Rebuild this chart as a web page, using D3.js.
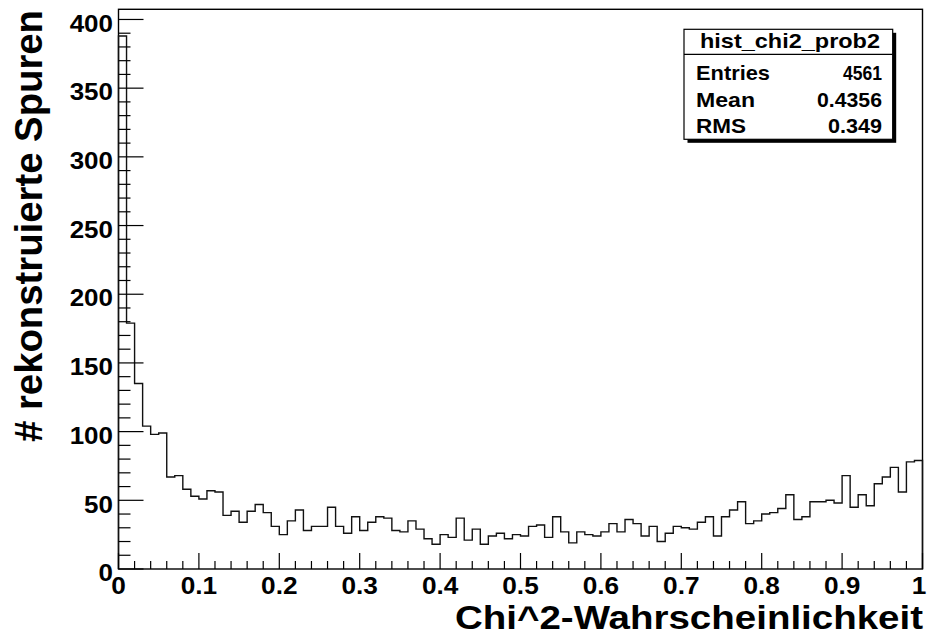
<!DOCTYPE html>
<html>
<head>
<meta charset="utf-8">
<script src="https://cdn.jsdelivr.net/npm/d3@7"></script>
<style>
  html, body { margin: 0; padding: 0; background: #fff; }
  svg { display: block; }
  text { font-family: "Liberation Sans", Arial, Helvetica, sans-serif; font-weight: bold; fill: #000; }
</style>
</head>
<body>
<svg id="chart" width="928" height="640"></svg>
<script>
// ---- data ----
const binLow = 0, binHigh = 1, nBins = 100;
const counts = [388,179,135,104,98,99,67,68,58,53,
                51,57,56,39,42,34,42,47,41,31,
                25,35,43,28,31,31,45,31,26,38,
                28,34,38,37,28,27,35,29,22,18,
                25,23,37,21,29,18,24,26,22,25,
                24,31,32,23,38,27,19,27,25,24,
                27,33,27,36,33,24,31,20,26,31,
                30,29,34,38,24,38,43,49,33,35,
                40,41,44,54,36,38,49,49,50,48,
                68,45,54,46,62,67,74,56,78,79];
const xTickValues = [0,0.1,0.2,0.3,0.4,0.5,0.6,0.7,0.8,0.9,1];
const xTickLabels = ["0","0.1","0.2","0.3","0.4","0.5","0.6","0.7","0.8","0.9","1"];
const yTickValues = [0,50,100,150,200,250,300,350,400];
const yTickLabels = ["0","50","100","150","200","250","300","350","400"];
const statsTitle = "hist_chi2_prob2";
const statsNames = ["Entries","Mean","RMS"];
const statsValues = ["4561","0.4356","0.349"];
const xTitle = "Chi^2-Wahrscheinlichkeit";
const yTitle = "# rekonstruierte Spuren";

// ---- layout ----
const L = 118.5, R = 922.5, T = 9.3, B = 569;
const yMax = 407.4;
const svg = d3.select("#chart");
const x = d3.scaleLinear().domain([binLow, binHigh]).range([L, R]);
const y = d3.scaleLinear().domain([0, yMax]).range([B, T]);
const binW = (binHigh - binLow) / nBins;

// frame
svg.append("rect").attr("x", L).attr("y", T).attr("width", R - L).attr("height", B - T)
  .attr("fill", "none").attr("stroke", "#000").attr("stroke-width", 1.4);

// histogram step line
const pts = [[x(binLow), y(0)]];
counts.forEach((c, i) => {
  pts.push([x(binLow + i * binW), y(c)]);
  pts.push([x(binLow + (i + 1) * binW), y(c)]);
});
pts.push([x(binHigh), y(0)]);
svg.append("path").attr("d", d3.line()(pts)).attr("fill", "none")
  .attr("stroke", "#111").attr("stroke-width", 1.4);

// x axis ticks
const xMinor = d3.range(0, 51).map(i => i * 0.02);
svg.append("g").selectAll("line").data(xMinor).join("line")
  .attr("x1", d => x(d)).attr("x2", d => x(d))
  .attr("y1", B).attr("y2", d => (Math.round(d * 50) % 5 === 0) ? B - 16 : B - 8)
  .attr("stroke", "#000").attr("stroke-width", 1.2);
// y axis ticks
const yMinor = d3.range(0, 41).map(i => i * 10);
svg.append("g").selectAll("line").data(yMinor).join("line")
  .attr("y1", d => y(d)).attr("y2", d => y(d))
  .attr("x1", L).attr("x2", d => (d % 50 === 0) ? L + 25 : L + 12)
  .attr("stroke", "#000").attr("stroke-width", 1.2);

// tick labels
svg.append("g").selectAll("text").data(xTickValues).join("text")
  .attr("transform", d => `translate(${Math.min(x(d), 919)},593.5) scale(1.14,1)`)
  .attr("text-anchor", "middle").attr("font-size", 23)
  .text((d, i) => xTickLabels[i]);
svg.append("g").selectAll("text").data(yTickValues).join("text")
  .attr("transform", d => `translate(113,${y(d) + 12.2}) scale(1.13,1)`)
  .attr("text-anchor", "end").attr("font-size", 23)
  .text((d, i) => yTickLabels[i]);

// axis titles
svg.append("text").attr("x", 455).attr("y", 629).attr("font-size", 34)
  .attr("textLength", 468).attr("lengthAdjust", "spacingAndGlyphs").text(xTitle);
svg.append("text").attr("transform", "translate(42,442) rotate(-90)")
  .attr("font-size", 39).attr("textLength", 432).attr("lengthAdjust", "spacingAndGlyphs")
  .text(yTitle);

// stats box
const bx = 684, by = 29.3, bw = 208.7, bh = 110;
svg.append("rect").attr("x", bx + 3.5).attr("y", by + 3.5).attr("width", bw).attr("height", bh)
  .attr("fill", "#000");
svg.append("rect").attr("x", bx).attr("y", by).attr("width", bw).attr("height", bh)
  .attr("fill", "#fff").attr("stroke", "#000").attr("stroke-width", 1.2);
svg.append("line").attr("x1", bx).attr("x2", bx + bw).attr("y1", 54.3).attr("y2", 54.3)
  .attr("stroke", "#000").attr("stroke-width", 1.2);
svg.append("text").attr("x", 700).attr("y", 48).attr("font-size", 21)
  .attr("textLength", 180).attr("lengthAdjust", "spacingAndGlyphs").text(statsTitle);
const nameW = [74, 59, 50], valW = [39, 65, 54], rowY = [80, 106.5, 132.5];
svg.append("g").selectAll("text").data(statsNames).join("text")
  .attr("x", 696).attr("y", (d, i) => rowY[i]).attr("font-size", 21)
  .attr("textLength", (d, i) => nameW[i]).attr("lengthAdjust", "spacingAndGlyphs").text(d => d);
svg.append("g").selectAll("text").data(statsValues).join("text")
  .attr("x", (d, i) => 882 - valW[i]).attr("y", (d, i) => rowY[i]).attr("font-size", 21)
  .attr("textLength", (d, i) => valW[i]).attr("lengthAdjust", "spacingAndGlyphs").text(d => d);
</script>
</body>
</html>
